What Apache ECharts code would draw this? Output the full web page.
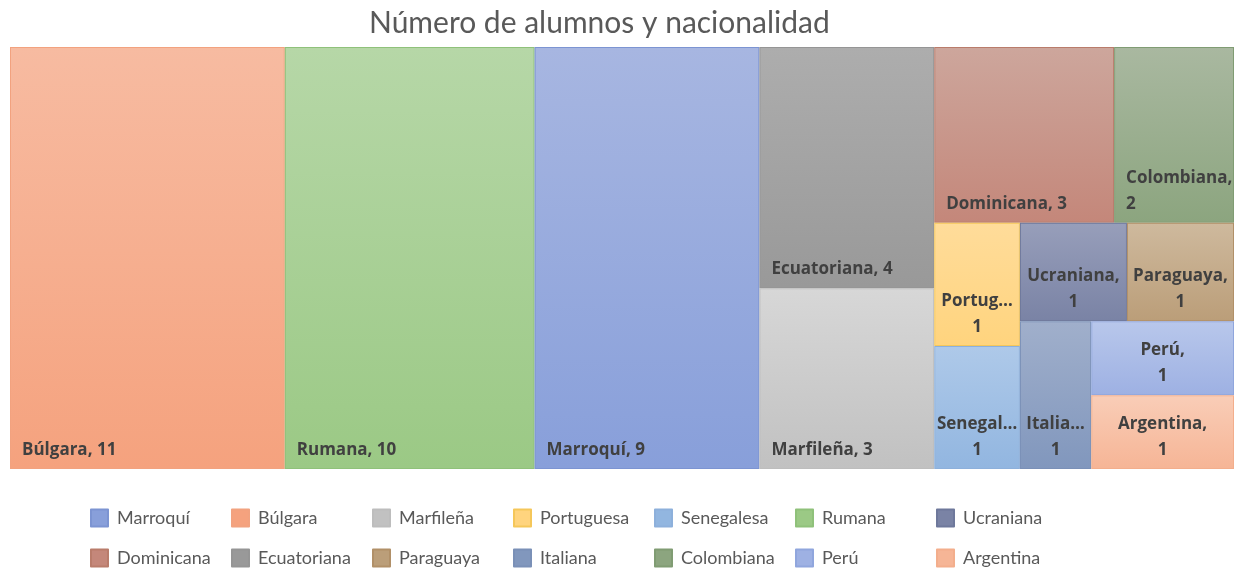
<!DOCTYPE html>
<html>
<head>
<meta charset="utf-8">
<title>Número de alumnos y nacionalidad</title>
<script src="https://cdn.jsdelivr.net/npm/echarts@6/dist/echarts.min.js"></script>
<style>
  html, body { margin: 0; padding: 0; background: #fff; }
  #chart { width: 1243px; height: 571px; }
</style>
</head>
<body>
<div id="chart"></div>
<script>
// datos (ya ordenados de mayor a menor)
const categories = ['Búlgara', 'Rumana', 'Marroquí', 'Ecuatoriana', 'Marfileña', 'Dominicana', 'Colombiana',
  'Portuguesa', 'Senegalesa', 'Ucraniana', 'Paraguaya', 'Italiana', 'Perú', 'Argentina']
const values = [11, 10, 9, 4, 3, 3, 2, 1, 1, 1, 1, 1, 1, 1]
const legendRow1 = ['Marroquí', 'Búlgara', 'Marfileña', 'Portuguesa', 'Senegalesa', 'Rumana', 'Ucraniana']
const legendRow2 = ['Dominicana', 'Ecuatoriana', 'Paraguaya', 'Italiana', 'Colombiana', 'Perú', 'Argentina']

// colores: [arriba, abajo, borde]
const palette = {
  'Búlgara': ['#F7BBA1', '#F5A27E', '#F2A27F'],
  'Rumana': ['#B6D7A7', '#9BC985', '#8FC17A'],
  'Marroquí': ['#A7B6E1', '#889FDA', '#7C94D2'],
  'Ecuatoriana': ['#ADADAD', '#999999', '#959595'],
  'Marfileña': ['#D7D7D7', '#C1C1C1', '#BDBDBD'],
  'Dominicana': ['#CDA69C', '#C4877A', '#B97C6B'],
  'Colombiana': ['#A9B8A0', '#8CA57F', '#809C73'],
  'Portuguesa': ['#FFDC9A', '#FFD47E', '#F5C75A'],
  'Senegalesa': ['#AEC9E9', '#92B6E0', '#8DB0DB'],
  'Ucraniana': ['#979EBA', '#7A83A5', '#6E789B'],
  'Paraguaya': ['#CEB99D', '#BB9E79', '#B19068'],
  'Italiana': ['#A0AFCB', '#8197BD', '#7A90B7'],
  'Perú': ['#B8C7EB', '#9EB1E3', '#90A6DD'],
  'Argentina': ['#F9CDB7', '#F6B596', '#F3AE8C']
}

function fill(name) {
  const c = palette[name]
  return {
    type: 'linear', x: 0, y: 0, x2: 0, y2: 1,
    colorStops: [{ offset: 0, color: c[0] }, { offset: 1, color: c[1] }]
  }
}

// las celdas pequeñas llevan la etiqueta en dos líneas, centrada
const smallLabel = {
  position: 'insideBottom',
  align: 'center',
  padding: 0,
  formatter: '{b},\n{c}',
  overflow: 'truncate',
  ellipsis: '…',
  lineHeight: 26
}

const treeData = categories.map((name, i) => ({
  name: name,
  value: values[i],
  itemStyle: { color: fill(name), borderColor: palette[name][2] },
  label: values[i] === 1 ? smallLabel : undefined
}))

const legendData = legendRow1.concat([''], legendRow2)

const chart = echarts.init(document.getElementById('chart'))
chart.setOption({
  animation: false,
  title: {
    text: 'Número de alumnos y nacionalidad',
    left: 364,
    top: 3,
    textStyle: { fontFamily: 'Lato', fontSize: 30, fontWeight: 'normal', color: '#595959' }
  },
  legend: {
    data: legendData,
    left: 90,
    top: 508,
    padding: 0,
    itemWidth: 17,
    itemHeight: 17,
    itemGap: 20,
    selectedMode: false,
    icon: 'rect',
    formatter: '{t|{name}}',
    textStyle: {
      lineHeight: 20,
      rich: { t: { fontFamily: 'Lato', fontSize: 18, color: '#595959', width: 94, lineHeight: 20, padding: [0, 0, 0, 4] } }
    }
  },
  series: [
    {
      type: 'treemap',
      left: 9,
      top: 46,
      width: 1226,
      height: 424,
      sort: false,
      squareRatio: 0.75,
      roam: false,
      nodeClick: false,
      breadcrumb: { show: false },
      itemStyle: { borderWidth: 1, gapWidth: 0, borderColor: '#ffffff' },
      label: {
        show: true,
        position: 'insideBottomLeft',
        distance: 5,
        padding: [0, 0, 0, 6],
        formatter: '{b}, {c}',
        fontFamily: 'Open Sans',
        fontSize: 17,
        fontWeight: 'bold',
        lineHeight: 26,
        color: '#404040',
        overflow: 'break'
      },
      data: treeData
    },
    {
      // solo para alimentar la leyenda
      type: 'pie',
      silent: true,
      center: [-200, -200],
      radius: [0, 1],
      label: { show: false },
      labelLine: { show: false },
      data: categories.map((name, i) => ({
        name: name,
        value: values[i],
        itemStyle: { color: palette[name][1], borderColor: palette[name][2], borderWidth: 1 }
      }))
    }
  ]
})
</script>
</body>
</html>
